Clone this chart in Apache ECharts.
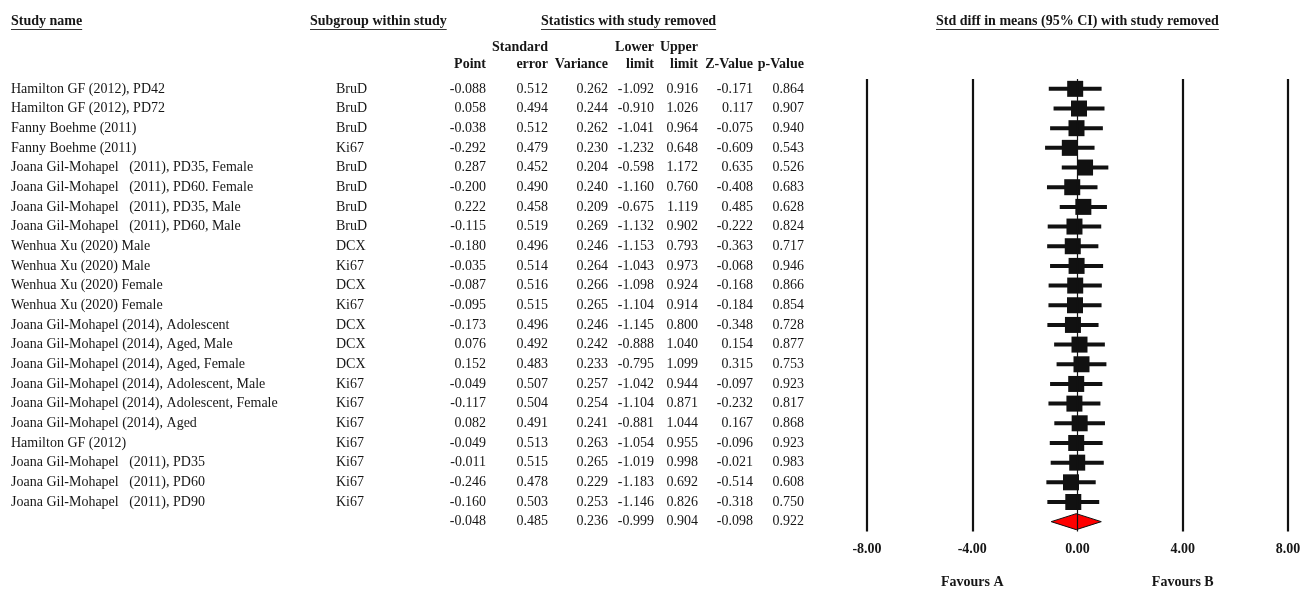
<!DOCTYPE html>
<html>
<head>
<meta charset="utf-8">
<title>Std diff in means with study removed</title>
<script src="https://cdn.jsdelivr.net/npm/echarts@6/dist/echarts.min.js"></script>
<style>
  html, body { margin: 0; padding: 0; background: #ffffff; }
  #chart { width: 1314px; height: 590px; }
</style>
</head>
<body>
<div id="chart"></div>
<script>
// Leave-one-out sensitivity analysis: each row is the pooled estimate with that study removed.
const studyNames = [
  'Hamilton GF (2012), PD42',
  'Hamilton GF (2012), PD72',
  'Fanny Boehme (2011)',
  'Fanny Boehme (2011)',
  'Joana Gil-Mohapel   (2011), PD35, Female',
  'Joana Gil-Mohapel   (2011), PD60. Female',
  'Joana Gil-Mohapel   (2011), PD35, Male',
  'Joana Gil-Mohapel   (2011), PD60, Male',
  'Wenhua Xu (2020) Male',
  'Wenhua Xu (2020) Male',
  'Wenhua Xu (2020) Female',
  'Wenhua Xu (2020) Female',
  'Joana Gil-Mohapel (2014), Adolescent',
  'Joana Gil-Mohapel (2014), Aged, Male',
  'Joana Gil-Mohapel (2014), Aged, Female',
  'Joana Gil-Mohapel (2014), Adolescent, Male',
  'Joana Gil-Mohapel (2014), Adolescent, Female',
  'Joana Gil-Mohapel (2014), Aged',
  'Hamilton GF (2012)',
  'Joana Gil-Mohapel   (2011), PD35',
  'Joana Gil-Mohapel   (2011), PD60',
  'Joana Gil-Mohapel   (2011), PD90'
];
const subgroups = [
  'BruD', 'BruD', 'BruD', 'Ki67', 'BruD', 'BruD', 'BruD', 'BruD',
  'DCX', 'Ki67', 'DCX', 'Ki67', 'DCX', 'DCX', 'DCX', 'Ki67', 'Ki67', 'Ki67',
  'Ki67', 'Ki67', 'Ki67', 'Ki67'
];
// Last entry of each numeric list is the overall pooled result.
const points = [-0.088, 0.058, -0.038, -0.292, 0.287, -0.200, 0.222, -0.115, -0.180, -0.035, -0.087, -0.095,
  -0.173, 0.076, 0.152, -0.049, -0.117, 0.082, -0.049, -0.011, -0.246, -0.160, -0.048];
const stdErrors = [0.512, 0.494, 0.512, 0.479, 0.452, 0.490, 0.458, 0.519, 0.496, 0.514, 0.516, 0.515,
  0.496, 0.492, 0.483, 0.507, 0.504, 0.491, 0.513, 0.515, 0.478, 0.503, 0.485];
const variances = [0.262, 0.244, 0.262, 0.230, 0.204, 0.240, 0.209, 0.269, 0.246, 0.264, 0.266, 0.265,
  0.246, 0.242, 0.233, 0.257, 0.254, 0.241, 0.263, 0.265, 0.229, 0.253, 0.236];
const lowerLimits = [-1.092, -0.910, -1.041, -1.232, -0.598, -1.160, -0.675, -1.132, -1.153, -1.043, -1.098, -1.104,
  -1.145, -0.888, -0.795, -1.042, -1.104, -0.881, -1.054, -1.019, -1.183, -1.146, -0.999];
const upperLimits = [0.916, 1.026, 0.964, 0.648, 1.172, 0.760, 1.119, 0.902, 0.793, 0.973, 0.924, 0.914,
  0.800, 1.040, 1.099, 0.944, 0.871, 1.044, 0.955, 0.998, 0.692, 0.826, 0.904];
const zValues = [-0.171, 0.117, -0.075, -0.609, 0.635, -0.408, 0.485, -0.222, -0.363, -0.068, -0.168, -0.184,
  -0.348, 0.154, 0.315, -0.097, -0.232, 0.167, -0.096, -0.021, -0.514, -0.318, -0.098];
const pValues = [0.864, 0.907, 0.940, 0.543, 0.526, 0.683, 0.628, 0.824, 0.717, 0.946, 0.866, 0.854,
  0.728, 0.877, 0.753, 0.923, 0.817, 0.868, 0.923, 0.983, 0.608, 0.750, 0.922];
const axisTicks = [-8, -4, 0, 4, 8];
const favourLabels = ['Favours A', 'Favours B'];

const FONT = '"Liberation Serif", "Times New Roman", serif';
const INK = '#161616';
const rowCount = points.length;           // studies + pooled row
const pooledIndex = rowCount - 1;

// right edges of the numeric columns, left edges of the text columns
const colNameX = 11;
const colSubX = 336;
const numCols = [
  { right: 486, values: points, head: ['', 'Point'] },
  { right: 548, values: stdErrors, head: ['Standard', 'error'] },
  { right: 608, values: variances, head: ['', 'Variance'] },
  { right: 654, values: lowerLimits, head: ['Lower', 'limit'] },
  { right: 698, values: upperLimits, head: ['Upper', 'limit'] },
  { right: 753, values: zValues, head: ['', 'Z-Value'] },
  { right: 804, values: pValues, head: ['', 'p-Value'] }
];

const measureCtx = document.createElement('canvas').getContext('2d');
function textWidth(str, font) { measureCtx.font = font; return measureCtx.measureText(str).width; }

const rowData = [];
for (let i = 0; i < rowCount; i++) rowData.push([0, i]);
const forestData = [];
for (let i = 0; i < rowCount; i++) forestData.push([points[i], i, lowerLimits[i], upperLimits[i]]);

function txt(x, y, s, align, bold) {
  return {
    type: 'text',
    style: {
      x: x, y: y, text: s, fill: INK,
      font: (bold ? 'bold ' : '') + '14px ' + FONT,
      textAlign: align, textVerticalAlign: 'middle'
    }
  };
}

// Section headers with underlines
const headers = [
  { x: 11, text: 'Study name' },
  { x: 310, text: 'Subgroup within study' },
  { x: 541, text: 'Statistics with study removed' },
  { x: 936, text: 'Std diff in means (95% CI) with study removed' }
];
const graphics = [];
headers.forEach(h => {
  graphics.push(txt(h.x, 21, h.text, 'left', true));
  const w = textWidth(h.text, 'bold 14px ' + FONT);
  graphics.push({
    type: 'line',
    shape: { x1: h.x, y1: 29.5, x2: h.x + w, y2: 29.5 },
    style: { stroke: '#333', lineWidth: 1 }
  });
});
numCols.forEach(c => {
  if (c.head[0]) graphics.push(txt(c.right, 47, c.head[0], 'right', true));
  graphics.push(txt(c.right, 64, c.head[1], 'right', true));
});

const chart = echarts.init(document.getElementById('chart'), null, { renderer: 'canvas' });

const option = {
  backgroundColor: '#ffffff',
  animation: false,
  grid: { left: 867, right: 26, top: 79, bottom: 58.5, containLabel: false },
  xAxis: {
    type: 'value', min: -8, max: 8, interval: 4,
    axisLine: { show: false }, axisTick: { show: false }, splitLine: { show: false },
    axisLabel: {
      margin: 11, color: INK, fontFamily: FONT, fontWeight: 'bold', fontSize: 14,
      formatter: v => v.toFixed(2)
    }
  },
  yAxis: { type: 'value', min: -0.5, max: rowCount - 0.5, inverse: true, show: false },
  graphic: graphics,
  series: [
    {
      // table columns, one row per data item
      type: 'custom', name: 'table', clip: false, silent: true,
      data: rowData,
      renderItem: function (params, api) {
        const i = api.value(1);
        const y = api.coord([0, i])[1];
        const children = [];
        if (i < studyNames.length) {
          children.push(txt(colNameX, y, studyNames[i], 'left', false));
          children.push(txt(colSubX, y, subgroups[i], 'left', false));
        }
        numCols.forEach(c => children.push(txt(c.right, y, c.values[i].toFixed(3), 'right', false)));
        return { type: 'group', children: children };
      }
    },
    {
      // confidence intervals, point estimates and pooled diamond
      type: 'custom', name: 'forest', silent: true,
      data: forestData,
      encode: { x: [0, 2, 3], y: 1 },
      renderItem: function (params, api) {
        const i = api.value(1);
        const p = api.coord([api.value(0), i]);
        const lo = api.coord([api.value(2), i]);
        const hi = api.coord([api.value(3), i]);
        if (i === pooledIndex) {
          const h = 8;
          return {
            type: 'polygon',
            shape: { points: [[lo[0], p[1]], [p[0], p[1] - h], [hi[0], p[1]], [p[0], p[1] + h]] },
            style: { fill: '#ff0000', stroke: '#111', lineWidth: 1 }
          };
        }
        const s = 16;
        return {
          type: 'group',
          children: [
            { type: 'line', shape: { x1: lo[0], y1: p[1], x2: hi[0], y2: p[1] },
              style: { stroke: '#111', lineWidth: 4 } },
            { type: 'rect', shape: { x: p[0] - s / 2, y: p[1] - s / 2, width: s, height: s },
              style: { fill: '#111' } }
          ]
        };
      },
      markLine: {
        silent: true, symbol: 'none', label: { show: false },
        data: axisTicks.map(t => ({
          xAxis: t,
          lineStyle: { color: '#111', type: 'solid', width: t === 0 ? 1.2 : 2.2 }
        }))
      },
      z: 3
    }
  ]
};
chart.setOption(option);

// "Favours" captions centred under the -4 and 4 reference lines
const favA = chart.convertToPixel({ gridIndex: 0 }, [-4, 0])[0];
const favB = chart.convertToPixel({ gridIndex: 0 }, [4, 0])[0];
chart.setOption({
  graphic: graphics.concat([
    txt(favA, 582, favourLabels[0], 'center', true),
    txt(favB, 582, favourLabels[1], 'center', true)
  ])
});
</script>
</body>
</html>
